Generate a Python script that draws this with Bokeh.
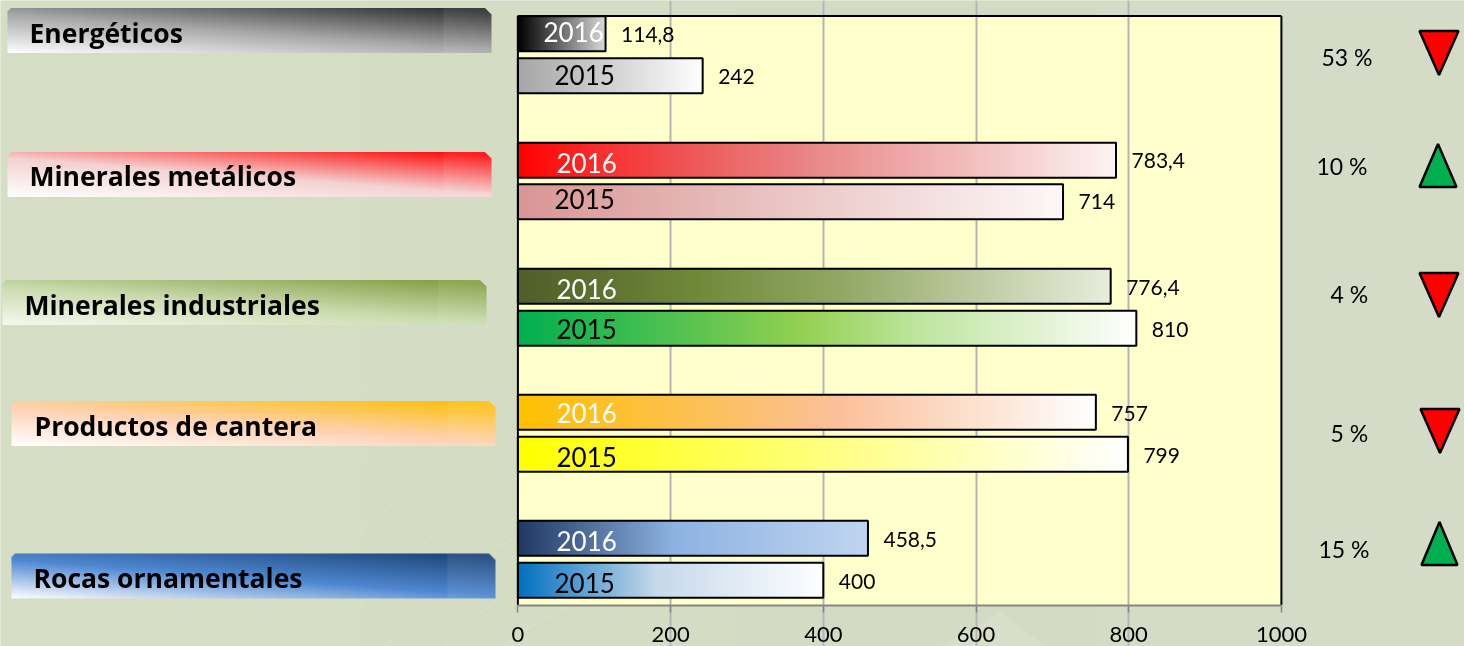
import numpy as np
from bokeh.plotting import figure
from bokeh.models import Range1d, LinearAxis, FixedTicker, Grid, ColumnDataSource
from bokeh.core.properties import value
from bokeh.embed import file_html
from bokeh.resources import INLINE

# ---- data
categories = ["Energéticos", "Minerales metálicos", "Minerales industriales", "Productos de cantera", "Rocas ornamentales"]
values_2016 = [114.8, 783.4, 776.4, 757, 458.5]
values_2015 = [242, 714, 810, 799, 400]
labels_2016 = ["114,8", "783,4", "776,4", "757", "458,5"]
labels_2015 = ["242", "714", "810", "799", "400"]
percent_labels = ["53 %", "10 %", "4 %", "5 %", "15 %"]
ticks = [0, 200, 400, 600, 800, 1000]

# ---- layout (page pixels, y measured from the top)
W, H = 1464, 646
PX0, PX1000 = 517.4, 1280.9
TOP, BOTTOM = 15.5, 604.5
BAR_H = 35
tops_2016 = [15.8, 142.3, 268.3, 394.3, 520.3]
tops_2015 = [57.8, 183.8, 310.3, 436.3, 562.3]
ribbon_box = [(7, 7.5), (7, 151.5), (2, 279.5), (11, 400.5), (11, 553)]
ribbon_size = (484, 45)
ribbon_text_x = [29, 29, 24, 34, 33]
ribbon_text_y = [32, 175, 304, 425, 577]
year16_xy = [(543, 31), (556, 162), (556, 288), (556, 412), (556, 540)]
year15_xy = [(554, 74), (554, 198), (556, 328), (556, 456), (554, 582)]
pct_xy = [(1321, 56), (1316, 165), (1330, 293), (1330, 432), (1318, 548)]
tri_box = [(1419, 30.5, 39, 44), (1419, 143.5, 37, 43), (1419, 272.5, 39, 44), (1420, 408.5, 39, 44), (1421, 521.5, 36, 43)]

# ---- colours
page_stops = [(0, "#d6dec4"), (.5, "#d5dcc5"), (1, "#d4dbc7")]
PLOT_BG = "#ffffcc"
grad_2016 = [
    [(0, "#000000"), (1, "#dcdcdc")],
    [(0, "#ff0000"), (.12, "#fb2a2a"), (.3, "#ee5a5a"), (.5, "#e98a8a"), (.75, "#f3bdbd"), (1, "#fdf4f4")],
    [(0, "#4f5f28"), (.3, "#70893a"), (.55, "#93a966"), (1, "#e9eddd")],
    [(0, "#ffc000"), (.55, "#fbc09a"), (1, "#ffffff")],
    [(0, "#1f3864"), (.45, "#8eb4e3"), (1, "#c0d5f1")],
]
grad_2015 = [
    [(0, "#a6a6a6"), (1, "#ffffff")],
    [(0, "#d99694"), (1, "#fdf8f8")],
    [(0, "#00b050"), (.45, "#92d050"), (.65, "#bfe6a0"), (1, "#ffffff")],
    [(0, "#ffff00"), (1, "#ffffff")],
    [(0, "#0070c0"), (.45, "#c6d9ea"), (1, "#ffffff")],
]
ribbon_stops = [
    ["#ffffff", "#a8a8a8", "#333333"],
    ["#ffffff", "#f4d2d2", "#ff1010"],
    ["#f6f9ee", "#cbdbae", "#87a047"],
    ["#ffffff", "#fed2b4", "#ffc010"],
    ["#ffffff", "#4f88d2", "#1f477a"],
]


def hex2rgb(c):
    return np.array([int(c[i:i + 2], 16) for i in (1, 3, 5)], dtype=float)


def bar_image(stops, n=400):
    t = np.linspace(0, 1, n)
    pos = [s[0] for s in stops]
    cols = np.array([hex2rgb(s[1]) for s in stops])
    rgb = np.stack([np.interp(t, pos, cols[:, k]) for k in range(3)], axis=-1)
    img = np.zeros((1, n), dtype=np.uint32)
    v = img.view(np.uint8).reshape((1, n, 4))
    v[0, :, :3] = rgb.astype(np.uint8)
    v[0, :, 3] = 255
    return img


def ribbon_image(stops, w, h):
    u = (np.arange(w) + .5) / w
    vv = (np.arange(h) + .5) / h          # row 0 is the bottom row of the ribbon
    U, V = np.meshgrid(u, vv)
    s = np.clip(.58 * V + .47 * U, 0, 1)
    c0, c1, c2 = [hex2rgb(c) for c in stops]
    img = np.zeros((h, w), dtype=np.uint32)
    v = img.view(np.uint8).reshape((h, w, 4))
    for k in range(3):
        a = np.interp(s, [0, .5, 1], [c0[k], c1[k], c2[k]])
        a = np.where(U > .9, a + (255 - a) * .07, a)   # the lighter end strip
        v[:, :, k] = a.astype(np.uint8)
    alpha = np.full((h, w), 255, dtype=np.uint8)
    cut = 6                                        # the clipped top right corner
    for i in range(cut):
        alpha[h - 1 - i, w - cut + i:] = 0
    for i in range(3):                             # the rounded top left corner
        alpha[h - 1 - i, :3 - i] = 0
    v[:, :, 3] = alpha
    return img


def Y(px):
    return H - px


sx = (PX1000 - PX0) / 1000.0


def px2x(v):
    return (v - PX0) / sx


x_range = Range1d(px2x(0), px2x(W))
y_range = Range1d(0, H)

p = figure(width=W, height=H, x_range=x_range, y_range=y_range, output_backend="svg",
           toolbar_location=None, x_axis_type=None, y_axis_type=None,
           min_border=0, min_border_left=0, min_border_right=0, min_border_top=0, min_border_bottom=0,
           background_fill_color="#d5dcc5", border_fill_color="#d5dcc5", outline_line_color=None)
p.styles = {"position": "fixed", "left": "0px", "top": "0px"}
p.grid.visible = False

# page background
p.image_rgba(image=[bar_image(page_stops)], x=[px2x(0)], y=[0], dw=[W / sx], dh=[H], level="image")

# page texture: faint arcs at the lower middle of the page
for r, a in zip([150, 190, 235, 280, 330, 385, 440], [.14, .13, .13, .11, .1, .08, .07]):
    p.arc(x=[px2x(690)], y=[Y(880)], radius=r + 150, radius_units="screen",
          start_angle=1.7, end_angle=3.0, line_color="#ffffff", line_alpha=a, line_width=1.2, level="image")
p.patch(x=[px2x(940), px2x(1000), px2x(1045), px2x(1015)], y=[Y(646), Y(612), Y(646), Y(646)],
        fill_color="#ffffff", fill_alpha=.1, line_color=None, level="image")

# plot area
p.quad(left=[0], right=[1000], bottom=[Y(BOTTOM)], top=[Y(TOP)], fill_color=PLOT_BG, line_color=None, level="image")

# axis and grid
axis = LinearAxis(ticker=FixedTicker(ticks=ticks), fixed_location=Y(BOTTOM), bounds=(0, 1000),
                  axis_line_color="#868686", axis_line_width=2,
                  major_tick_line_color="#868686", major_tick_line_width=1.5,
                  major_tick_out=7, major_tick_in=0, minor_tick_line_color=None,
                  major_label_text_font="Lato", major_label_text_font_size="22px",
                  major_label_text_color="#000000", major_label_standoff=15)
p.add_layout(axis, "below")
grid = Grid(dimension=0, ticker=FixedTicker(ticks=ticks[1:-1]), bounds=(Y(BOTTOM), Y(TOP)),
            grid_line_color="#b5b5b5", grid_line_width=2)
p.add_layout(grid)

# frame: left, top, right
p.segment(x0=[0, 0, 1000], y0=[Y(BOTTOM), Y(TOP), Y(BOTTOM)], x1=[0, 1000, 1000], y1=[Y(TOP), Y(TOP), Y(TOP)],
          line_color="#000000", line_width=2, level="guide")

# bars
for vals, tops, grads in [(values_2016, tops_2016, grad_2016), (values_2015, tops_2015, grad_2015)]:
    for v, t, g in zip(vals, tops, grads):
        p.image_rgba(image=[bar_image(g)], x=[0], y=[Y(t + BAR_H)], dw=[v], dh=[BAR_H])
    p.quad(left=[0] * len(vals), right=vals, top=[Y(t) for t in tops], bottom=[Y(t + BAR_H) for t in tops],
           fill_color=None, line_color="#000000", line_width=2)

# ribbons
for (x, y), st in zip(ribbon_box, ribbon_stops):
    w, h = ribbon_size
    p.image_rgba(image=[ribbon_image(st, w, h)], x=[px2x(x)], y=[Y(y + h)], dw=[w / sx], dh=[h])


def text(xs, ys, labels, size, color="#000000", style="normal", font="Lato"):
    src = ColumnDataSource(dict(x=xs, y=ys, t=labels))
    p.text(x="x", y="y", text="t", source=src, text_font=value(font), text_font_size=value(size),
           text_color=color, text_font_style=style, text_align="left", text_baseline="middle")


text([px2x(v) for v in ribbon_text_x], [Y(v) for v in ribbon_text_y], categories, "26.5px", style="bold", font="Open Sans")
text([px2x(a) for a, _ in year16_xy], [Y(b) for _, b in year16_xy], ["2016"] * 5, "26px", color="#ffffff")
text([px2x(a) for a, _ in year15_xy], [Y(b) for _, b in year15_xy], ["2015"] * 5, "26px")

# value labels, a fixed gap after each bar's end
GAP = 15.5 / sx
val_y16 = [34, 160, 287, 413, 539]
val_y15 = [76, 201, 329, 455, 581]
text([v + GAP for v in values_2016], [Y(v) for v in val_y16], labels_2016, "21px")
text([v + GAP for v in values_2015], [Y(v) for v in val_y15], labels_2015, "21px")
text([px2x(a) for a, _ in pct_xy], [Y(b) for _, b in pct_xy], percent_labels, "23px")

# change markers: direction comes from the two years' values
xs, ys, cols = [], [], []
for (x, y, w, h), a, b in zip(tri_box, values_2016, values_2015):
    if a >= b:
        xs.append([px2x(x), px2x(x + w / 2), px2x(x + w)])
        ys.append([Y(y + h), Y(y), Y(y + h)])
        cols.append("#00b050")
    else:
        xs.append([px2x(x), px2x(x + w / 2), px2x(x + w)])
        ys.append([Y(y), Y(y + h), Y(y)])
        cols.append("#ff0000")
p.patches(xs, ys, fill_color=cols, line_color="#000000", line_width=2.5)

open("out.html", "w").write(file_html(p, INLINE))
